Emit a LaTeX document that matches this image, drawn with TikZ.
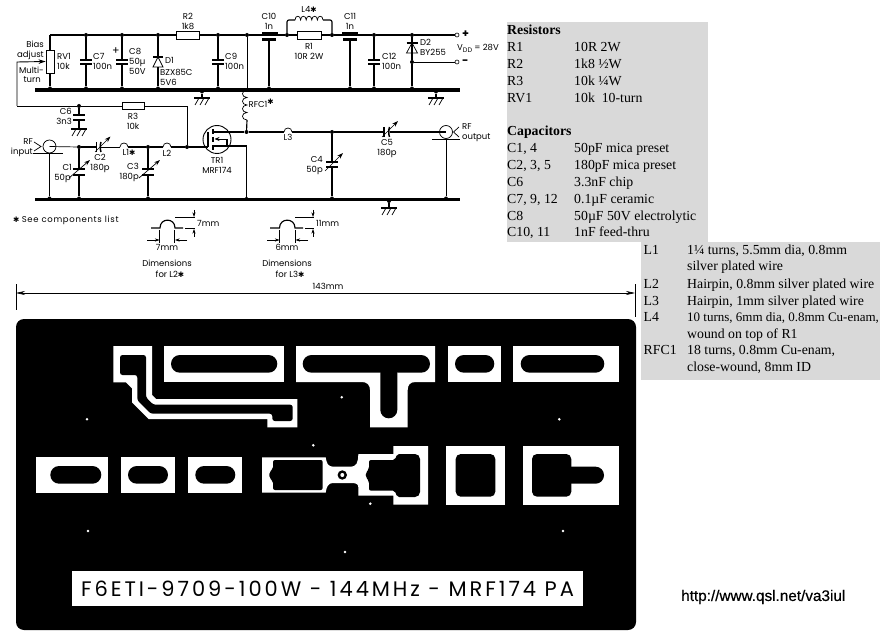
\documentclass[tikz,border=0pt]{standalone}
\usepackage{fontspec}
\setmainfont{Liberation Serif}
\newfontfamily\schfont{Poppins}
\newfontfamily\urlfont[FakeBold=0.5]{Liberation Sans}
\newfontfamily\starfont{DejaVu Sans}
\usetikzlibrary{arrows.meta}
\definecolor{panelgray}{RGB}{217,217,217}
\newcommand{\stmark}{{\starfont\fontsize{7.5}{7.5}\selectfont ✱}}
\tikzset{
  wire/.style={line width=1.15pt,black},
  midwire/.style={line width=0.9pt,black},
  thinwire/.style={line width=0.7pt,black},
  bus/.style={line width=3.4pt,black},
  plate/.style={line width=1.5pt,black},
  res/.style={draw,line width=0.8pt,fill=white,inner sep=0pt,minimum width=#1,minimum height=8pt},
  res/.default=23pt,
  jn/.style={circle,fill=black,inner sep=0pt,minimum size=4pt},
  term/.style={circle,draw,line width=0.6pt,fill=white,inner sep=0pt,minimum size=4pt},
  lab/.style={font=\schfont\fontsize{8.5}{8.5}\selectfont,inner sep=0pt,text height=6pt,text depth=0pt},
  labl/.style={lab,anchor=west},
  labr/.style={lab,anchor=east},
  tab/.style={font=\fontsize{13.8}{13.8}\selectfont,inner sep=0pt,anchor=west,text height=8.5pt,text depth=0pt},
  tabb/.style={tab,font=\bfseries\fontsize{13.8}{13.8}\selectfont},
  dim/.style={line width=0.5pt,black},
  dimarr/.style={line width=0.5pt,black,-{Stealth[length=4.5pt,width=3pt]}},
  varr/.style={line width=0.7pt,black,-{Stealth[length=6pt,width=4pt]}},
  whitepad/.style={fill=white,draw=none},
  blackcu/.style={fill=black,draw=none},
}
\newcommand{\hcap}[5]{%
  \coordinate (#1a) at (#2,#3); \coordinate (#1b) at (#2,#4);
  \draw[plate] (#2-#5,#3) -- (#2+#5,#3);
  \draw[plate] (#2-#5,#4) -- (#2+#5,#4);}
\newcommand{\gndsym}[3]{%
  \coordinate (#1) at (#2,#3);
  \draw[wire] (#2-8,#3) -- (#2+8,#3);
  \draw[thinwire] (#2-3,#3) -- (#2-7,#3+7);
  \draw[thinwire] (#2+2,#3) -- (#2-2,#3+7);
  \draw[thinwire] (#2+7,#3) -- (#2+3,#3+7);}
\newcommand{\slot}[5]{\draw[blackcu,rounded corners=#5pt] (#1,#2) rectangle (#3,#4);}
\newcommand{\whiterect}[4]{\fill[whitepad] (#1,#2) rectangle (#3,#4);}
\newcommand{\drillhole}[2]{\fill[white] (#1,#2) circle (1.4pt);}
\begin{document}
\begin{tikzpicture}[x=1pt,y=-1pt]
\useasboundingbox (0,0) rectangle (881,631);
\fill[white] (0,0) rectangle (881,631);

% ---------- panels ----------
\fill[panelgray] (507,22) rectangle (708,241.7);
\fill[panelgray] (641,241.7) rectangle (880,380);

% ---------- buses ----------
\coordinate (busTL) at (35,90); \coordinate (busTR) at (460,90);
\coordinate (busBL) at (35,199.5); \coordinate (busBR) at (460,199.5);
\draw[bus] (busTL) -- (busTR);
\draw[bus] (busBL) -- (busBR);

% ---------- top rail junctions ----------
\node[jn] (t7) at (86,35) {};
\node[jn] (t8) at (122,35) {};
\node[jn] (t1) at (158,35) {};
\node[jn] (t9) at (218,35) {};
\node[jn] (tf) at (247,35) {};
\node[jn] (tl1) at (287,35) {};
\node[jn] (tl2) at (332,35) {};
\node[jn] (t12) at (374,35) {};
\node[jn] (td2) at (412,35) {};
\node[term] (vp) at (457,35) {};
\node[jn] (dm) at (412,62) {};
\node[term] (vm) at (457,62) {};
\node[jn] (b5) at (50,88.5) {};
\node[jn] (b7) at (86,88.5) {};
\node[jn] (b8) at (122,88.5) {};
\node[jn] (b1) at (158,88.5) {};
\node[jn] (b9) at (218,88.5) {};
\node[jn] (bg) at (202,91.5) {};
\node[jn] (b10) at (269,88.5) {};
\node[jn] (b11) at (350,88.5) {};
\node[jn] (b12) at (374,88.5) {};
\node[jn] (bd2) at (412,88.5) {};
\node[jn] (bg2) at (436,91.5) {};
\coordinate (tl) at (50,35);

% RV1
\node[res=8pt,minimum height=23pt] (RV1) at (50,61.5) {};
\draw[wire] (tl) -- (RV1.north);
\draw[wire] (RV1.south) -- (b5);
% top rail
\node[res] (R2) at (187.5,35) {};
\node[res=24pt] (R1) at (309,35) {};
\draw[wire] (tl) -- (t7) -- (t8) -- (t1) -- (R2.west);
\draw[wire] (R2.east) -- (t9) -- (tf) -- (tl1) -- (R1.west);
\draw[wire] (R1.east) -- (tl2) -- (t12) -- (td2) -- (vp);
% C7 C8 C9 C12
\hcap{c7}{86}{60}{64}{6}
\draw[wire] (t7) -- (c7a); \draw[wire] (c7b) -- (b7);
\hcap{c8}{122}{60}{64}{6}
\draw[wire] (t8) -- (c8a); \draw[wire] (c8b) -- (b8);
\hcap{c9}{218}{60}{64}{6}
\draw[wire] (t9) -- (c9a); \draw[wire] (c9b) -- (b9);
\hcap{c12}{374}{60}{64}{6}
\draw[wire] (t12) -- (c12a); \draw[wire] (c12b) -- (b12);
% D1
\coordinate (d1k) at (158,57); \coordinate (d1a) at (158,67);
\draw[wire] (t1) -- (d1k); \draw[wire] (d1a) -- (b1);
\draw[thinwire] (d1k) -- (153,67) -- (163,67) -- cycle;
\draw[wire] (153,57) -- (163,57);
% D2
\coordinate (d2k) at (412,43); \coordinate (d2a) at (412,53);
\draw[wire] (td2) -- (dm); \draw[wire] (dm) -- (bd2);
\draw[thinwire] (d2k) -- (406.5,53) -- (417.5,53) -- cycle;
\draw[wire] (406.5,43) -- (417.5,43);
\draw[thinwire] (dm) -- (vm);
% feed-thru caps
\coordinate (c10b) at (269,40); \coordinate (c11b) at (350,40);
\draw[line width=2.4pt] (262,33) -- (278,33);
\draw[line width=2.2pt] (262,39.5) -- (276,39.5);
\draw[wire] (c10b) -- (b10);
\draw[line width=2.4pt] (342,33) -- (358,33);
\draw[line width=2.2pt] (343,39.5) -- (357,39.5);
\draw[wire] (c11b) -- (b11);
% L4
\coordinate (l4a) at (295,20); \coordinate (l4b) at (323,20);
\draw[wire,rounded corners=2pt] (tl1) -- (287,20) -- (l4a);
\draw[wire,rounded corners=2pt] (tl2) -- (332,20) -- (l4b);
\draw[thinwire] (l4a) \foreach \i in {0,...,4} { .. controls +(0,-5) and +(0,-5) .. (295+5.6+5.6*\i,20) };
% grounds
\gndsym{g1}{202}{98}
\draw[wire] (bg) -- (g1);
\gndsym{g2}{436}{98}
\draw[wire] (bg2) -- (g2);
\gndsym{g3}{389}{208}
\node[jn] (bg3) at (389,201) {};
\draw[wire] (bg3) -- (g3);

% bias feed
\node[jn] (r6) at (79,106) {};
\node[res=22.5pt,minimum height=7pt] (R3) at (133.5,106) {};
\node[jn] (gate) at (187,147) {};
\coordinate (bl) at (17,106);
\coordinate (bw) at (17,62);
\coordinate (wip) at (RV1.west);
\draw[midwire,-{Stealth[length=7pt,width=4.5pt]}] (bl) -- (bw) -- (wip);
\draw[midwire] (bl) -- (r6);
\draw[midwire] (r6) -- (R3.west);
\draw[midwire] (R3.east) -- (187,106) -- (gate);
% C6
\hcap{c6}{79}{115}{120}{6}
\draw[wire] (r6) -- (c6a); \draw[wire] (c6b) -- (79,129) coordinate (g6t);
\gndsym{g6}{79}{129}

% RFC1
\coordinate (rfa) at (247,90); \coordinate (rfb) at (247,120);
\draw[thinwire] (tf) -- (rfa);
\draw[thinwire] (rfa) \foreach \i in {0,...,3} { .. controls +(-6,0) and +(-6,0) .. (247,90+7.5+7.5*\i) };
\node[jn] (dj) at (246.5,132) {};
\draw[wire] (rfb) -- (dj);

% transistor
\node[circle,draw,line width=0.9pt,inner sep=0pt,minimum size=28pt] (TR1) at (217,139.5) {};
\draw[wire] (208,132) -- (208,147);
\draw[wire] (gate) -- (208,147);
\draw[wire] (213,129) -- (213,134); \draw[wire] (213,137) -- (213,142); \draw[wire] (213,145) -- (213,150);
\draw[wire] (213,132) -- (dj);
\draw[wire] (213,146) -- (227,146) -- (227,139);
\draw[thinwire,-{Stealth[length=5pt,width=4pt]}] (227,139) -- (214.5,139);
\node[jn] (bs) at (246.5,199) {};
\draw[wire] (227,146) -- (246.5,146) -- (bs);

% output line
\node[jn] (j4) at (332,132) {};
\node[circle,draw,line width=0.7pt,inner sep=0pt,minimum size=13pt] (RFout) at (446,132) {};
\draw[wire] (dj) -- (284,132) coordinate (l3a);
\coordinate (l3b) at (292,132);
\draw[thinwire] (l3a) .. controls +(0,-5.3) and +(0,-5.3) .. (l3b);
\draw[wire] (l3b) -- (j4);
\draw[wire] (j4) -- (384,132) coordinate (c5a);
\coordinate (c5b) at (389.5,132);
\draw[wire] (c5b) -- (RFout.center);
\draw[plate] (384,127) -- (384,137);
\draw[plate] (389.5,127) .. controls (388.5,130) and (388.5,134) .. (389.5,137);
\draw[varr] (382,137) -- (398,121);
\coordinate (go) at (446,139);
\draw[thinwire] (432,139) -- (460,139);
\node[jn] (bo) at (446,198.5) {};
\draw[thinwire] (go) -- (bo);
\draw[thinwire] (459,127) -- (453.5,132) -- (459,137);
% C4
\hcap{c4}{332}{162}{167}{6}
\draw[wire] (j4) -- (c4a);
\node[jn] (b4) at (332,198.5) {};
\draw[wire] (c4b) -- (b4);
\draw[varr] (325,171) -- (343,153);

% input
\node[circle,draw,line width=0.7pt,inner sep=0pt,minimum size=13pt] (RFin) at (49.5,146.5) {};
\draw[thinwire] (34,142) -- (41,146.5) -- (34,151);
\draw[thinwire] (33,153) -- (63,153);
\coordinate (gi) at (49.5,153);
\node[jn] (b0) at (49.5,198.5) {};
\draw[wire] (gi) -- (b0);
\node[jn] (j1) at (79,147) {};
\draw[thinwire] (RFin.center) -- (j1);
\draw[wire] (j1) -- (96.5,147) coordinate (c2a);
\coordinate (c2b) at (101,147);
\draw[plate] (96.5,142) -- (96.5,152);
\draw[plate] (101,142) .. controls (100,145) and (100,149) .. (101,152);
\draw[varr] (95,152) -- (110.5,136.5);
\coordinate (l1a) at (120,147); \coordinate (l1b) at (128,147);
\draw[thinwire] (c2b) -- (l1a);
\draw[thinwire] (l1a) .. controls +(0,-5.3) and +(0,-5.3) .. (l1b);
\node[jn] (j3) at (148,147) {};
\draw[wire] (l1b) -- (j3);
\coordinate (l2a) at (163,147); \coordinate (l2b) at (171,147);
\draw[wire] (j3) -- (l2a);
\draw[thinwire] (l2a) .. controls +(0,-5.3) and +(0,-5.3) .. (l2b);
\draw[wire] (l2b) -- (gate);
% C1 C3
\hcap{c1}{79}{169}{175}{6}
\draw[wire] (j1) -- (c1a);
\node[jn] (b1c) at (79,198.5) {};
\draw[wire] (c1b) -- (b1c);
\draw[varr] (69,178) -- (90,160);
\hcap{c3}{148}{169}{175}{6}
\draw[wire] (j3) -- (c3a);
\node[jn] (b3c) at (148,198.5) {};
\draw[wire] (c3b) -- (b3c);
\draw[varr] (139,178) -- (160,160);

% ---------- schematic labels ----------
\node[labr] (tBias) at (44,45) {Bias};
\node[labr] (tAdj) at (44,55) {adjust};
\node[labr] (tMul) at (44,71) {Multi-};
\node[labr] (tTurn) at (41,80) {turn};
\node[labl] (tRV) at (57,57) {RV1};
\node[labl] (tRVv) at (57,67) {10k};
\node[labl] (tC7) at (93,57) {C7};
\node[labl] (tC7v) at (93,67) {100n};
\node[lab,font=\schfont\fontsize{11}{11}\selectfont] (tPlus) at (116,52) {+};
\node[labl] (tC8) at (129,52) {C8};
\node[labl] (tC8v) at (129,62) {50µ};
\node[labl] (tC8w) at (129,72) {50V};
\node[labl] (tD1) at (165,61) {D1};
\node[labl] (tD1v) at (160,73) {BZX85C};
\node[labl] (tD1w) at (160,83) {5V6};
\node[labl] (tC9) at (225,57) {C9};
\node[labl] (tC9v) at (225,67) {100n};
\node[lab] (tR2) at (188,17) {R2};
\node[lab] (tR2v) at (188,27) {1k8};
\node[lab] (tR3) at (133,117) {R3};
\node[lab] (tR3v) at (133,127) {10k};
\node[labr] (tC6) at (72,112) {C6};
\node[labr] (tC6v) at (72,122) {3n3};
\node[lab] (tC10) at (269,17) {C10};
\node[lab] (tC10v) at (269,27) {1n};
\node[lab] (tC11) at (350,17) {C11};
\node[lab] (tC11v) at (350,27) {1n};
\node[lab] (tL4) at (309,10) {L4\stmark};
\node[lab] (tR1) at (309,47) {R1};
\node[lab] (tR1v) at (309,57) {10R 2W};
\node[labl] (tC12) at (382,57) {C12};
\node[labl] (tC12v) at (382,67) {100n};
\node[labl] (tD2) at (420,43) {D2};
\node[labl] (tD2v) at (420,53) {BY255};
\node[labl,font=\schfont\bfseries\fontsize{11}{11}\selectfont] (tVp) at (462,35) {+};
\node[labl,font=\schfont\bfseries\fontsize{11}{11}\selectfont] (tVm) at (462,62) {−};
\node[labl] (tVdd) at (457,48) {V\raisebox{-1.5pt}{\fontsize{6.5}{6.5}\selectfont DD} = 28V};
\node[labl] (tRFC) at (248.5,105) {RFC1\raisebox{3pt}{\stmark}};
\node[labr] (tInA) at (33,142) {RF};
\node[labr] (tInB) at (33,152) {input};
\node[labr] (tC1l) at (72,168) {C1};
\node[labr] (tC1v) at (71,178) {50p};
\node[lab] (tC2) at (100,158) {C2};
\node[lab] (tC2v) at (100,168) {180p};
\node[lab] (tL1) at (129,153) {L1\stmark};
\node[lab] (tL2) at (167,154) {L2};
\node[labr] (tC3) at (139,167) {C3};
\node[labr] (tC3v) at (139,177) {180p};
\node[lab] (tTR) at (217,161) {TR1};
\node[lab] (tTRv) at (217,171) {MRF174};
\node[lab] (tL3) at (288,138) {L3};
\node[labr] (tC4) at (323,160) {C4};
\node[labr] (tC4v) at (323,170) {50p};
\node[lab] (tC5) at (387,143) {C5};
\node[lab] (tC5v) at (387,153) {180p};
\node[labl] (tOutA) at (462,127) {RF};
\node[labl] (tOutB) at (462,137) {output};
\node[labl] (tSee) at (13,220) {\stmark\ \addfontfeature{LetterSpace=8}See components list};

% ---------- hairpin L2 ----------
\coordinate (h2a) at (151,228); \coordinate (h2b) at (160,228); \coordinate (h2c) at (175,228); \coordinate (h2d) at (183,228);
\draw[wire] (h2a) -- (h2b) .. controls (160,217.5) and (175,217.5) .. (h2c) -- (h2d);
\draw[dim] (175,217) -- (195,217); \draw[dim] (185,228) -- (195,228);
\draw[dimarr] (194,210) -- (194,217); \draw[dimarr] (194,237) -- (194,229);
\draw[dim] (159.5,230) -- (159.5,243); \draw[dim] (174.5,230) -- (174.5,243);
\coordinate (h2l) at (147,240); \coordinate (h2r) at (187,240);
\draw[dimarr] (h2l) -- (159.5,240); \draw[dimarr] (h2r) -- (175,240);
\node[labl] (t7a) at (197,224) {7mm};
\node[lab] (t7b) at (167,248) {7mm};
\node[lab] (t7c) at (167,263) {Dimensions};
\node[lab] (t7d) at (170,274) {for L2\stmark};
% ---------- hairpin L3 ----------
\coordinate (h3a) at (270,228); \coordinate (h3b) at (279.5,228); \coordinate (h3c) at (295,228); \coordinate (h3d) at (303,228);
\draw[wire] (h3a) -- (h3b) .. controls (279.5,217.5) and (295,217.5) .. (h3c) -- (h3d);
\draw[dim] (295,217) -- (314,217); \draw[dim] (305,228) -- (314,228);
\draw[dimarr] (313,210) -- (313,217); \draw[dimarr] (313,237) -- (313,229);
\draw[dim] (279.5,230) -- (279.5,243); \draw[dim] (295,230) -- (295,243);
\coordinate (h3l) at (267,240); \coordinate (h3r) at (308,240);
\draw[dimarr] (h3l) -- (279.5,240); \draw[dimarr] (h3r) -- (295.5,240);
\node[labl] (t11a) at (316,224) {11mm};
\node[lab] (t11b) at (287,248) {6mm};
\node[lab] (t11c) at (287,263) {Dimensions};
\node[lab] (t11d) at (290,274) {for L3\stmark};

% ---------- 143mm dimension ----------
\coordinate (dl) at (16,293); \coordinate (dr) at (635,293);
\draw[dim] (16,284) -- (16,310);
\draw[dim] (635,284) -- (635,317);
\draw[line width=0.6pt,{Stealth[length=9pt,width=4pt]}-{Stealth[length=9pt,width=4pt]}] (dl) -- (dr);
\node[lab] (t143) at (328,287) {143mm};

% ---------- PCB ----------
\fill[black,rounded corners=8pt] (16,319) rectangle (636,630);
% input line
\fill[whitepad] (113.3,346) -- (152,346) -- (152,395) -- (156,399) -- (297.3,399) -- (297.3,427.3) -- (267.3,427.3) -- (267.3,419) -- (148.7,419) -- (132,402.3) -- (132,388.3) -- (126,382.3) -- (113.3,382.3) -- cycle;
\fill[blackcu,rounded corners=2.5pt] (120,355) -- (146,355) -- (146,397.3) -- (153.3,404.7) -- (292.7,404.7) -- (292.7,421) -- (272.3,421) -- (272.3,413.7) -- (150.7,413.7) -- (137.3,400.3) -- (137.3,375) -- (120,375) -- cycle;
% top row
\whiterect{164}{346}{284}{382}
\slot{171}{355}{277.3}{372.7}{8.8}
\fill[whitepad] (296,346) -- (435,346) -- (435,382) -- (415.7,382) .. controls (410,382) and (407.7,385) .. (407.7,390) -- (407.7,427.3) -- (370,427.3) -- (370,390) .. controls (370,385) and (367,382) .. (362,382) -- (296,382) -- cycle;
\slot{302.7}{355}{430}{372.7}{8.8}
\fill[blackcu,rounded corners=8.4pt] (380.3,365) -- (397.3,365) -- (397.3,418.3) -- (380.3,418.3) -- cycle;
\whiterect{448}{346}{501}{382}
\slot{455}{355}{494.3}{372.7}{8.8}
\whiterect{513}{346}{619}{382}
\slot{520.7}{355}{604.3}{372.7}{8.8}
% lower row
\whiterect{36}{457}{108}{493}
\slot{50.3}{466}{101.3}{483.7}{8.8}
\whiterect{121}{457}{175}{493}
\slot{128}{466}{168}{483.7}{8.8}
\whiterect{188}{457}{242}{493}
\slot{195.3}{466}{235.3}{483.7}{8.8}
% transistor pad
\fill[whitepad] (262,457.3) -- (325.7,457.3) .. controls (326.5,463) and (328,466.7) .. (333,466.7) -- (351,466.7) .. controls (356,466.7) and (358.3,463) .. (358.3,454) -- (393.3,454) -- (393.3,446) -- (428,446) -- (428,504.5) -- (393.3,504.5) -- (393.3,495.7) -- (358.3,495.7) -- (358.3,487) .. controls (358.3,483.5) and (355,483) .. (351,483) -- (333,483) .. controls (328,483) and (326.5,487) .. (325.7,492.7) -- (262,492.7) -- cycle;
\fill[blackcu,rounded corners=2pt] (273,460) -- (322.7,460) -- (322.7,490) -- (273,490) -- (273,481) -- (269.3,478) -- (269.3,472) -- (273,469) -- cycle;
\fill[blackcu,rounded corners=2pt] (369,460) -- (395,460) -- (397,454) -- (417,454) -- (420,457) -- (420,494) -- (417,497) -- (397,497) -- (395,490.7) -- (369,490.7) -- (369,481) -- (365.7,477) -- (365.7,473) -- (369,469) -- cycle;
\fill[black] (342.3,475) circle (4.7pt);
\fill[white] (342.3,475) circle (2pt);
% output pads
\whiterect{446}{446}{505}{505}
\slot{455.7}{454}{495.3}{496.7}{5}
\whiterect{523}{446}{619}{505}
\slot{532}{454}{571.3}{496.7}{5}
\fill[blackcu,rounded corners=8.4pt] (560,466.7) -- (604,466.7) -- (604,483.7) -- (560,483.7) -- cycle;
% drill marks
\drillhole{87}{419.3}
\drillhole{313.3}{445.3}
\drillhole{341.7}{397.3}
\drillhole{559.3}{419.3}
\drillhole{370.3}{503.7}
\drillhole{88}{531}
\drillhole{563}{531}
\drillhole{345}{552}
% label
\node[fill=white,minimum width=511pt,minimum height=35pt,inner sep=0pt] (pcbLabel) at (327.5,588.5) {\schfont\fontsize{21}{21}\selectfont\addfontfeature{LetterSpace=14}F6ETI-9709-100W - 144MHz - MRF174 PA};

% ---------- component tables ----------
\node[tabb] (a0) at (507,30) {Resistors};
\node[tab] (a1) at (507,47) {R1};   \node[tab] (a1v) at (574,47) {10R 2W};
\node[tab] (a2) at (507,64) {R2};   \node[tab] (a2v) at (574,64) {1k8 ½W};
\node[tab] (a3) at (507,81) {R3};   \node[tab] (a3v) at (574,81) {10k ¼W};
\node[tab] (a4) at (507,98) {RV1};  \node[tab] (a4v) at (574,98) {10k\ \ 10-turn};
\node[tabb] (b0) at (507,131) {Capacitors};
\node[tab] (b1) at (507,148) {C1, 4};      \node[tab] (b1v) at (574,148) {50pF mica preset};
\node[tab] (b2) at (507,165) {C2, 3, 5};   \node[tab] (b2v) at (574,165) {180pF mica preset};
\node[tab] (b3) at (507,182) {C6};         \node[tab] (b3v) at (574,182) {3.3nF chip};
\node[tab] (b4t) at (507,199) {C7, 9, 12}; \node[tab] (b4v) at (574,199) {0.1µF ceramic};
\node[tab] (b5t) at (507,216) {C8};        \node[tab] (b5v) at (574,216) {50µF 50V electrolytic};
\node[tab] (b6) at (507,232.5) {C10, 11};  \node[tab] (b6v) at (574,232.5) {1nF feed-thru};
\node[tab] (c1t) at (643.5,250.7) {L1};    \node[tab] (c1v) at (687,250.7) {1¼ turns, 5.5mm dia, 0.8mm};
\node[tab] (c1w) at (687,266.7) {silver plated wire};
\node[tab] (c2t) at (643.5,284) {L2};      \node[tab] (c2v) at (687,284) {Hairpin, 0.8mm silver plated wire};
\node[tab] (c3t) at (643.5,301) {L3};      \node[tab] (c3v) at (687,301) {Hairpin, 1mm silver plated wire};
\node[tab] (c4t) at (643.5,317.7) {L4};    \node[tab,font=\fontsize{13}{13}\selectfont] (c4v) at (687,317.7) {10 turns, 6mm dia, 0.8mm Cu-enam,};
\node[tab] (c4w) at (687,334) {wound on top of R1};
\node[tab] (c5t) at (643.5,350.7) {RFC1};  \node[tab] (c5v) at (687,350.7) {18 turns, 0.8mm Cu-enam,};
\node[tab] (c5w) at (687,367.7) {close-wound, 8mm ID};

% ---------- URL ----------
\node[inner sep=0pt,anchor=west,font=\urlfont\fontsize{15.3}{15.3}\selectfont] (url) at (681,597) {http://www.qsl.net/va3iul};
\end{tikzpicture}
\end{document}
